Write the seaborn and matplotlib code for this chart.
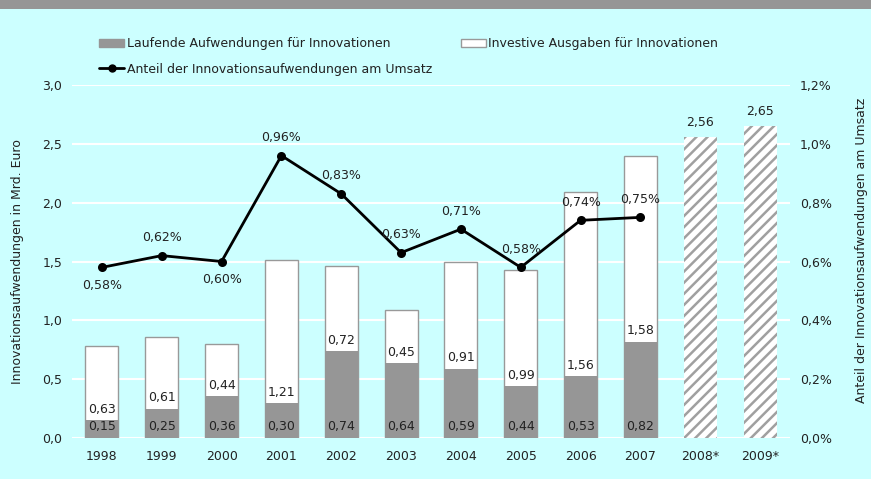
import pandas as pd
import seaborn as sns
import matplotlib.pyplot as plt
from matplotlib.patches import Patch, Rectangle
from matplotlib.lines import Line2D

# data
years = ['1998', '1999', '2000', '2001', '2002', '2003', '2004', '2005',
         '2006', '2007', '2008*', '2009*']
ist_years = years[:10]
laufende = [0.15, 0.25, 0.36, 0.30, 0.74, 0.64, 0.59, 0.44, 0.53, 0.82]
investive = [0.63, 0.61, 0.44, 1.21, 0.72, 0.45, 0.91, 0.99, 1.56, 1.58]
prognose_years = ['2008*', '2009*']
prognose = [2.56, 2.65]
anteil = [0.58, 0.62, 0.60, 0.96, 0.83, 0.63, 0.71, 0.58, 0.74, 0.75]

left_ticks = [0.0, 0.5, 1.0, 1.5, 2.0, 2.5, 3.0]
left_labels = ['0,0', '0,5', '1,0', '1,5', '2,0', '2,5', '3,0']
right_ticks = [0.0, 0.2, 0.4, 0.6, 0.8, 1.0, 1.2]
right_labels = ['0,0%', '0,2%', '0,4%', '0,6%', '0,8%', '1,0%', '1,2%']

# where the percent labels go relative to the point
anteil_pos = ['below', 'above', 'below'] + ['above'] * 7


def de(v, nd=2):
    return f"{v:.{nd}f}".replace('.', ',')


gesamt = [a + b for a, b in zip(laufende, investive)]

sns.set_theme(style='white')
plt.rcParams['font.family'] = ['DejaVu Sans']
plt.rcParams['hatch.linewidth'] = 1.8

bg = '#CCFFFF'
gray = '#969696'
txt = '#222222'

fig = plt.figure(figsize=(8.71, 4.79), dpi=100, facecolor=bg)
ax = fig.add_axes([72 / 871, 41 / 479, 718 / 871, 353 / 479])
ax.set_facecolor(bg)
ax.set_axisbelow(True)

sns.barplot(x=ist_years, y=gesamt, order=years, color='white', edgecolor='#999999',
            linewidth=1, width=0.55, saturation=1, ax=ax)
sns.barplot(x=ist_years, y=laufende, order=years, color=gray, linewidth=0,
            width=0.55, saturation=1, ax=ax)
sns.barplot(x=prognose_years, y=prognose, order=years, color='white',
            edgecolor='#a0a0a0', hatch='///', linewidth=0, width=0.55,
            saturation=1, ax=ax)

ax.yaxis.grid(True, color='white', lw=1.5)
ax.xaxis.grid(False)
ax.set_xlim(-0.5, len(years) - 0.5)
ax.set_ylim(0, 3.0)
ax.set_yticks(left_ticks)
ax.set_yticklabels(left_labels)
ax.tick_params(axis='both', length=0, labelsize=9, labelcolor=txt)
ax.tick_params(axis='x', pad=9)
ax.tick_params(axis='y', pad=7)
for s in ax.spines.values():
    s.set_visible(False)
ax.set_xlabel('')
ax.set_ylabel('')

# bar value labels
for i, (l, v) in enumerate(zip(laufende, investive)):
    ax.text(i, 0.1, de(l), ha='center', va='center', fontsize=9, color=txt)
    ax.text(i, l + 0.09, de(v), ha='center', va='center', fontsize=9, color=txt)
for y, v in zip(prognose_years, prognose):
    ax.text(years.index(y), v + 0.07, de(v), ha='center', va='bottom',
            fontsize=9, color=txt)

# share line on right axis
ax2 = ax.twinx()
sns.pointplot(x=ist_years, y=anteil, order=years, color='black', markers='o',
              markersize=5, linewidth=2, errorbar=None, ax=ax2)
ax2.set_xlim(-0.5, len(years) - 0.5)
ax2.set_ylim(0, 1.2)
ax2.set_yticks(right_ticks)
ax2.set_yticklabels(right_labels)
ax2.tick_params(axis='y', length=0, labelsize=9, labelcolor=txt, pad=7)
ax2.grid(False)
for s in ax2.spines.values():
    s.set_visible(False)
ax2.set_xlabel('')
ax2.set_ylabel('')

for i, (v, pos) in enumerate(zip(anteil, anteil_pos)):
    off = 13 if pos == 'above' else -13
    ax2.annotate(de(v) + '%', (i, v), xytext=(0, off), textcoords='offset points',
                 ha='center', va='center', fontsize=9, color=txt)

# axis titles
fig.text(18 / 871, 1 - 262 / 479, 'Innovationsaufwendungen in Mrd. Euro',
         rotation=90, ha='center', va='center', fontsize=9, color=txt)
fig.text(861 / 871, 1 - 250 / 479, 'Anteil der Innovationsaufwendungen am Umsatz',
         rotation=90, ha='center', va='center', fontsize=9, color=txt)

# legend
handles = [
    Patch(facecolor=gray, edgecolor=gray, label='Laufende Aufwendungen für Innovationen'),
    Line2D([], [], color='black', lw=2, marker='o', markersize=5,
           label='Anteil der Innovationsaufwendungen am Umsatz'),
    Patch(facecolor='white', edgecolor='#999999', label='Investive Ausgaben für Innovationen'),
]
fig.legend(handles=handles, loc='upper left', bbox_to_anchor=(93 / 871, 1 - 31 / 479),
           ncol=2, frameon=False, fontsize=9, borderpad=0, handlelength=2,
           handleheight=0.7, handletextpad=0.2, columnspacing=2.3, labelspacing=1.0,
           labelcolor=txt)

# top band
fig.add_artist(Rectangle((0, 1 - 9 / 479), 1, 9 / 479, transform=fig.transFigure,
                         facecolor=gray, edgecolor='none'))

fig.savefig('out.png', dpi=100, facecolor=bg)
